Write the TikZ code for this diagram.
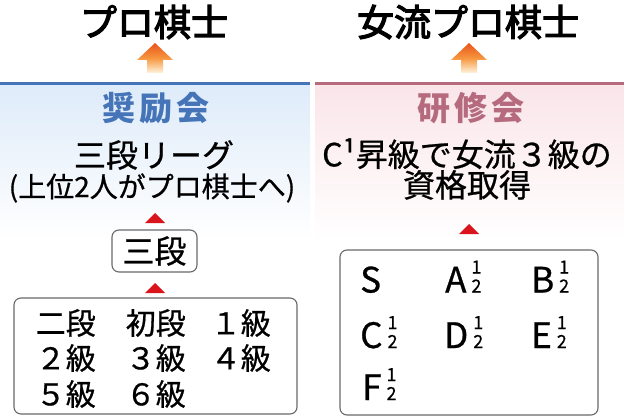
\documentclass[tikz,border=0pt]{standalone}
\usepackage{fontspec}
\setmainfont{Noto Sans CJK JP}
\newfontfamily\jpmid{Noto Sans CJK JP}[FakeBold=0.7]
\newfontfamily\jptitle{Noto Sans CJK JP}[FakeBold=3.2]

\definecolor{shoblue}{RGB}{70,116,184}
\definecolor{shobg}{RGB}{222,235,249}
\definecolor{kenpink}{RGB}{181,106,126}
\definecolor{kenbg}{RGB}{250,229,233}
\definecolor{trired}{RGB}{218,20,28}
\definecolor{arrtop}{RGB}{234,84,28}
\definecolor{arrmid}{RGB}{246,150,62}
\definecolor{arrbot}{RGB}{255,244,222}
\definecolor{boxgray}{RGB}{105,105,105}

\newcommand\halfmark{\hspace{5pt}{\fontsize{18}{18}\selectfont\rlap{\raisebox{19pt}{1}}2}}

\tikzset{
  title/.style={inner sep=0pt, font=\fontsize{37}{37}\selectfont\jptitle},
  head/.style={inner sep=0pt, font=\fontsize{33}{33}\selectfont\bfseries\addfontfeature{LetterSpace=12}},
  body/.style={inner sep=0pt, font=\fontsize{30}{30}\selectfont\jpmid},
  grade/.style={inner sep=0pt, anchor=base west, font=\fontsize{35}{35}\selectfont\jpmid},
  panel/.style={draw=boxgray, line width=1.1pt, rounded corners=7pt, inner sep=0pt},
  uptri/.pic={\fill[trired] (-10,5) -- (10,5) -- (0,-5) -- cycle;},
  uparrow/.pic={\shade[top color=arrtop, bottom color=arrbot, middle color=arrmid]
    (-18,-13) -- (0,-30) -- (18,-13) -- (8,-13) -- (8,0) -- (-8,0) -- (-8,-13) -- cycle;}
}

\begin{document}
\begin{tikzpicture}[x=1pt,y=-1pt]
  \useasboundingbox (0,0) rectangle (624,417);
  % the two panels
  \shade[top color=shobg, bottom color=white] (0,85) rectangle (310,240);
  \shade[top color=kenbg, bottom color=white] (315,85) rectangle (624,240);
  \draw[shoblue, line width=3pt] (0,84) -- (310,84);
  \draw[kenpink, line width=3pt] (315,84) -- (624,84);

  % goals
  \node[title] (pro) at (154,22) {プロ棋士};
  \node[title] (jopro) at (468,22) {女流プロ棋士};
  \pic at (155,73) {uparrow};
  \pic at (469,73) {uparrow};

  % shoreikai
  \node[head, text=shoblue] (shorei) at (156,108) {奨励会};
  \node[body, font=\fontsize{32}{32}\selectfont\jpmid] (league) at (154,155) {三段リーグ};
  \node[body, font=\fontsize{28}{28}\selectfont\jpmid] (top2) at (152,188) {(上位2人がプロ棋士へ)};
  \pic at (155,218) {uptri};
  \node[panel, body, font=\fontsize{32}{32}\selectfont\jpmid, minimum width=85pt, minimum height=42pt] (sandan) at (154.5,251) {三段};
  \pic at (155,288) {uptri};
  \node[panel, minimum width=283pt, minimum height=116pt] (kyu) at (155.5,356) {};
  \node[body, anchor=east] (nidan) at (96,323) {二段};
  \node[body, anchor=east] (shodan) at (186,323) {初段};
  \node[body, anchor=east] (kyu1) at (271,323) {１級};
  \node[body, anchor=east] (kyu2) at (96,358) {２級};
  \node[body, anchor=east] (kyu3) at (186,358) {３級};
  \node[body, anchor=east] (kyu4) at (271,358) {４級};
  \node[body, anchor=east] (kyu5) at (96,394) {５級};
  \node[body, anchor=east] (kyu6) at (186,394) {６級};

  % kenshukai
  \node[head, text=kenpink] (kenshu) at (471,108) {研修会};
  \node[body, font=\fontsize{32}{28}\selectfont\jpmid, align=center] (cond) at (467,169) {C¹昇級で女流３級の\\資格取得};
  \pic at (469,229) {uptri};
  \node[panel, minimum width=258pt, minimum height=165pt] (klass) at (469,332.5) {};
  \node[grade] (gs) at (360,292.5) {S};
  \node[grade] (ga) at (445,292.5) {A\halfmark};
  \node[grade] (gb) at (531,292.5) {B\halfmark};
  \node[grade] (gc) at (360,348) {C\halfmark};
  \node[grade] (gd) at (444,348) {D\halfmark};
  \node[grade] (ge) at (531,348) {E\halfmark};
  \node[grade] (gf) at (362,400) {F\halfmark};
\end{tikzpicture}
\end{document}
